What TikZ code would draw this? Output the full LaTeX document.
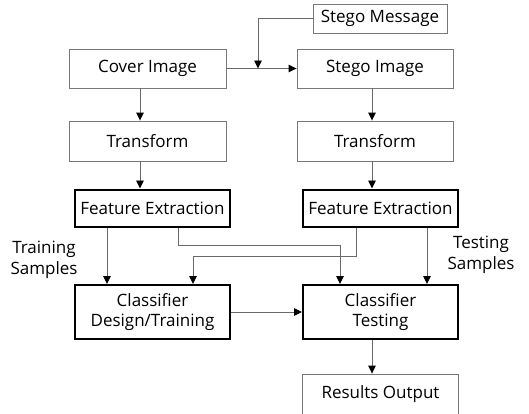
\documentclass[tikz,border=0pt]{standalone}
\usepackage{fontspec}
\setmainfont{Open Sans}
\usetikzlibrary{arrows.meta}
\definecolor{linegray}{RGB}{105,105,105}
\definecolor{boxgray}{RGB}{120,120,120}
\tikzset{
  plainbox/.style={draw=boxgray, line width=0.9pt, minimum height=39pt, inner sep=0pt},
  boldbox/.style={draw=black, line width=2pt, minimum width=155pt, inner sep=0pt, align=center},
  link/.style={draw=linegray, line width=0.9pt, -{Triangle[length=8pt,width=7.5pt,color=black]}},
  lbl/.style={align=center, inner sep=0pt}
}
\begin{document}
\begin{tikzpicture}[x=1pt,y=1pt,font=\fontsize{17}{20.5}\selectfont]
      \useasboundingbox (0,0) rectangle (529,-413);
      \draw
        (380,-18.5) node[plainbox, minimum width=134pt, minimum height=29pt] (msg){Stego Message}
        (147.5,-68.5) node[plainbox, minimum width=157pt] (cover){Cover Image}
        (375,-68.5) node[plainbox, minimum width=156pt] (stego){Stego Image}
        (147.5,-141) node[plainbox, minimum width=157pt, minimum height=40pt] (trL){Transform}
        (375,-141) node[plainbox, minimum width=156pt, minimum height=40pt] (trR){Transform}
        (152.5,-208) node[boldbox, minimum height=37pt] (feL){Feature Extraction}
        (380.5,-208) node[boldbox, minimum height=37pt] (feR){Feature Extraction}
        (152.5,-312) node[boldbox, minimum height=54pt] (cdt){Classifier\\Design/Training}
        (380.5,-312) node[boldbox, minimum height=54pt] (ct){Classifier\\Testing}
        (380.5,-394) node[plainbox, minimum width=156pt, minimum height=40pt] (res){Results Output}
        (44,-260) node[lbl] (trainlbl){Training\\Samples}
        (481,-255) node[lbl] (testlbl){Testing\\Samples};
      \coordinate (join) at (258,-68.5);
      \begin{scope}[link]
        \draw (cover.east) -- (stego.west);
        \draw (msg.west) -| (join);
        \draw ([xshift=-7.5pt]cover.south) -- ([xshift=-7.5pt]trL.north);
        \draw ([xshift=-7.5pt]trL.south) -- ([xshift=-7.5pt]trL.south |- feL.north);
        \draw ([xshift=-3pt]stego.south) -- ([xshift=-3pt]trR.north);
        \draw ([xshift=-3pt]trR.south) -- ([xshift=-3pt]trR.south |- feR.north);
        \draw ([xshift=-45.5pt]feL.south) -- ([xshift=-45.5pt]cdt.north);
        \draw ([xshift=25.5pt]feL.south) -- ++(0,-18) -| ([xshift=-40.5pt]ct.north);
        \draw ([xshift=-24.5pt]feR.south) -- ++(0,-29) -| ([xshift=40.5pt]cdt.north);
        \draw ([xshift=46.5pt]feR.south) -- ([xshift=46.5pt]ct.north);
        \draw (cdt.east) -- (ct.west);
        \draw ([xshift=-8.5pt]ct.south) -- ([xshift=-8.5pt]res.north);
      \end{scope}
    \end{tikzpicture}
\end{document}
